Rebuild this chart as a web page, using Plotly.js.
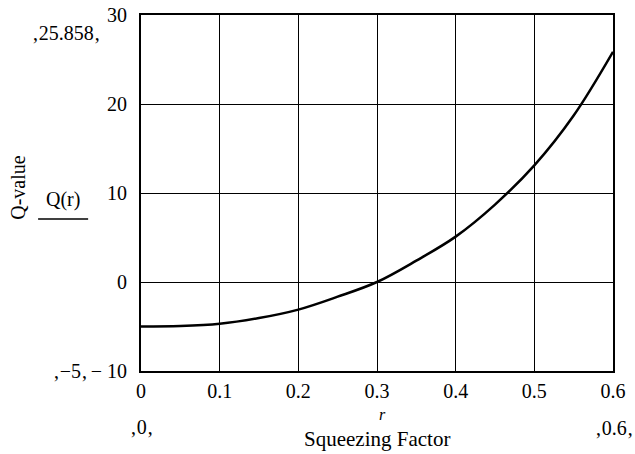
<!DOCTYPE html>
<html>
<head>
<meta charset="utf-8">
<script src="https://cdn.plot.ly/plotly-3.0.1.min.js"></script>
<style>html,body{margin:0;padding:0;background:#fff;}#chart{width:635px;height:454px;}</style>
</head>
<body>
<div id="chart"></div>
<script>
// Data
var rValues = [0, 0.05, 0.1, 0.15, 0.2, 0.25, 0.3, 0.35, 0.4, 0.45, 0.5, 0.55, 0.6];
var qValues = [-5.0, -4.95, -4.7, -4.05, -3.1, -1.65, 0, 2.4, 5.1, 8.7, 13.1, 18.7, 25.858];
var xTickVals = [0, 0.1, 0.2, 0.3, 0.4, 0.5, 0.6];
var xTickText = ["0", "0.1", "0.2", "0.3", "0.4", "0.5", "0.6"];
var yTickVals = [-10, 0, 10, 20, 30];
var yTickText = ["\u2212 10", "0", "10", "20", "30"];

var serif = "Liberation Serif, Times New Roman, serif";
var fs = 20;

var trace = {
  x: rValues, y: qValues, type: "scatter", mode: "lines",
  line: {color: "#000", width: 2.5, shape: "spline"},
  hoverinfo: "skip", showlegend: false
};

var layout = {
  width: 635, height: 454,
  margin: {l: 141, r: 22, t: 15, b: 83},
  paper_bgcolor: "#fff", plot_bgcolor: "#fff",
  font: {family: serif, size: fs, color: "#000"},
  showlegend: false,
  xaxis: {
    range: [0, 0.6], tickvals: xTickVals, ticktext: xTickText,
    showgrid: true, gridcolor: "#000", gridwidth: 1,
    zeroline: false, showline: true, mirror: true, linecolor: "#000", linewidth: 2,
    ticks: "", ticklabelstandoff: 1,
    tickfont: {family: serif, size: fs, color: "#000"}
  },
  yaxis: {
    range: [-10, 30], tickvals: yTickVals, ticktext: yTickText,
    showgrid: true, gridcolor: "#000", gridwidth: 1,
    zeroline: false, showline: true, mirror: true, linecolor: "#000", linewidth: 2,
    ticks: "", ticklabelstandoff: 8,
    tickfont: {family: serif, size: fs, color: "#000"}
  },
  shapes: [
    {type: "line", xref: "paper", yref: "paper", x0: -0.218, x1: -0.112, y0: 0.427, y1: 0.427,
     line: {color: "#000", width: 1.5}}
  ],
  annotations: [
    {xref: "paper", yref: "paper", x: -0.261, y: 0.517, text: "Q-value", textangle: -90,
     showarrow: false, font: {family: serif, size: fs}, xanchor: "center", yanchor: "middle"},
    {xref: "paper", yref: "paper", x: -0.165, y: 0.482, text: "Q(r)",
     showarrow: false, font: {family: serif, size: fs}, xanchor: "center", yanchor: "middle"},
    {xref: "paper", yref: "paper", x: -0.159, y: 0.949, text: "\u201a25.858\u201a",
     showarrow: false, font: {family: serif, size: fs}, xanchor: "center", yanchor: "middle"},
    {xref: "paper", yref: "paper", x: -0.108, y: 0.0, text: "\u201a\u22125\u201a",
     showarrow: false, font: {family: serif, size: fs}, xanchor: "right", yanchor: "middle"},
    {xref: "paper", yref: "paper", x: 0.0, y: -0.156, text: "\u201a0\u201a",
     showarrow: false, font: {family: serif, size: fs}, xanchor: "center", yanchor: "middle"},
    {xref: "paper", yref: "paper", x: 1.046, y: -0.159, text: "\u201a0.6\u201a",
     showarrow: false, font: {family: serif, size: fs}, xanchor: "right", yanchor: "middle"},
    {xref: "paper", yref: "paper", x: 0.511, y: -0.123, text: "<i>r</i>",
     showarrow: false, font: {family: serif, size: 16}, xanchor: "center", yanchor: "middle"},
    {xref: "paper", yref: "paper", x: 0.5, y: -0.19, text: "Squeezing Factor",
     showarrow: false, font: {family: serif, size: 21}, xanchor: "center", yanchor: "middle"}
  ]
};

Plotly.newPlot("chart", [trace], layout, {staticPlot: true, displayModeBar: false});
</script>
</body>
</html>
